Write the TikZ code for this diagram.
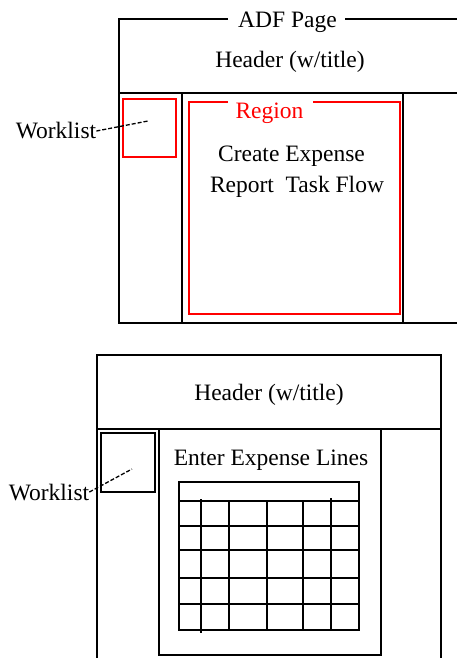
\documentclass[tikz,border=0pt]{standalone}
\usepackage{fontspec}
\setmainfont{Liberation Serif}
\begin{document}
\begin{tikzpicture}[x=1pt,y=-1pt,
  frame/.style={draw=black,line width=1.5pt},
  redbox/.style={draw=red,line width=1.1pt},
  lbl/.style={font=\fontsize{23.5}{28}\selectfont,inner sep=0pt,anchor=base},
  leader/.style={draw=black,line width=1.3pt,dash pattern=on 4pt off 2pt}]
\useasboundingbox (0,0) rectangle (457,658);
% ---------- top diagram ----------
\draw[frame] (228,19) -- (119,19) -- (119,323) -- (457,323);
\draw[frame] (345,19) -- (457,19);
\draw[frame] (119,93) -- (457,93);
\draw[frame] (182,93) -- (182,323);
\draw[frame] (403,93) -- (403,323);
\draw[line width=2.4pt] (182,323) -- (403,323);
\node[lbl] (adf) at (287.5,28) {ADF Page};
\node[lbl] (hdrA) at (290,68) {Header (w/title)};
\draw[redbox] (123,99) rectangle (176,157);
\draw[redbox] (228,102) -- (189,102) -- (189,314) -- (400,314) -- (400,102) -- (313,102);
\node[lbl,text=red] (region) at (269.5,118) {Region};
\node[lbl] (createA) at (291.5,161) {Create Expense};
\node[lbl] (createB) at (297,192) {Report\hspace{0.5em}Task Flow};
\node[lbl] (wlA) at (56,139) {Worklist};
\coordinate (wlAend) at (148,121);
\draw[leader] (wlA.east) -- (wlAend);
% ---------- bottom diagram ----------
\draw[frame] (97,658) -- (97,355) -- (441,355) -- (441,658);
\draw[frame] (97,429) -- (441,429);
\node[lbl] (hdrB) at (269,400) {Header (w/title)};
\draw[frame] (101,433) rectangle (155,492);
\draw[frame] (159,429) -- (159,655) -- (381,655) -- (381,429);
\node[lbl] (enter) at (271,465) {Enter Expense Lines};
\draw[frame] (179,482) rectangle (359,630);
\foreach \yy in {501,526,550,578,604} \draw[frame] (179,\yy) -- (359,\yy);
\draw[frame] (201,499) -- (201,633);
\foreach \xx in {229,267,303} \draw[frame] (\xx,501) -- (\xx,630);
\draw[frame] (331,498) -- (331,630);
\node[lbl] (wlB) at (49,500) {Worklist};
\coordinate (wlBend) at (132,469);
\draw[leader] (wlB.east) -- (wlBend);
\end{tikzpicture}
\end{document}
